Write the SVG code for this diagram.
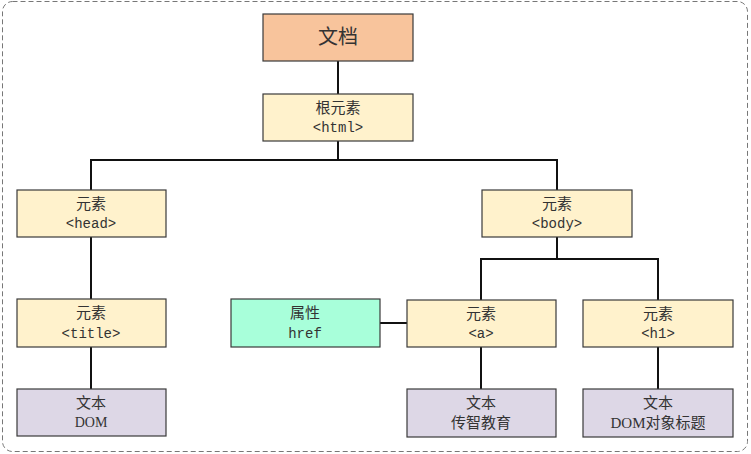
<svg xmlns="http://www.w3.org/2000/svg" width="751" height="454" viewBox="0 0 751 454">
<style>
.box{stroke:#3a3a3a;stroke-width:1.2}
.doc{fill:#F8C49C}
.el{fill:#FFF2CC}
.attr{fill:#A8FFDA}
.txt{fill:#DDD7E6}
.t{font-family:"Liberation Serif","Noto Sans CJK SC",serif;font-size:15px;fill:#333;text-anchor:middle}
.m{font-family:"Liberation Mono","Noto Sans CJK SC",monospace;font-size:14px;fill:#333;text-anchor:middle}
.c{fill:none;stroke:#111;stroke-width:2}
</style>
<rect x="2.5" y="1.5" width="745" height="450" rx="10" fill="#fff" stroke="#777" stroke-dasharray="5,3"/>
<g id="connectors">
<path class="c" d="M338 61V94M338 141V160M91 190V160H557V190M91 237V299M91 347V389M557 237V259M481 300V259H658V300M481 347V389M658 347V389M380 323H407"/>
</g>
<g id="doc"><rect class="box doc" x="263" y="14" width="150" height="47"/><text class="t" x="338" y="44" style="font-size:20px">文档</text></g>
<g id="html"><rect class="box el" x="263" y="94" width="150" height="47"/><text class="t" x="338" y="113">根元素</text><text class="m" x="338" y="132">&lt;html&gt;</text></g>
<g id="head"><rect class="box el" x="17" y="190" width="149" height="47"/><text class="t" x="91" y="209">元素</text><text class="m" x="91" y="228">&lt;head&gt;</text></g>
<g id="body"><rect class="box el" x="482" y="190" width="150" height="47"/><text class="t" x="557" y="209">元素</text><text class="m" x="557" y="228">&lt;body&gt;</text></g>
<g id="title"><rect class="box el" x="17" y="299" width="149" height="48"/><text class="t" x="91" y="318">元素</text><text class="m" x="91" y="338">&lt;title&gt;</text></g>
<g id="attr"><rect class="box attr" x="231" y="299" width="149" height="48"/><text class="t" x="305" y="318">属性</text><text class="m" x="305" y="338">href</text></g>
<g id="a"><rect class="box el" x="407" y="300" width="149" height="47"/><text class="t" x="481" y="319">元素</text><text class="m" x="481" y="338">&lt;a&gt;</text></g>
<g id="h1"><rect class="box el" x="583" y="300" width="150" height="47"/><text class="t" x="658" y="319">元素</text><text class="m" x="658" y="338">&lt;h1&gt;</text></g>
<g id="textDOM"><rect class="box txt" x="17" y="389" width="149" height="47"/><text class="t" x="91" y="408">文本</text><text class="t" x="91" y="427" style="font-size:14px">DOM</text></g>
<g id="textA"><rect class="box txt" x="407" y="389" width="149" height="48"/><text class="t" x="481" y="408">文本</text><text class="t" x="481" y="428">传智教育</text></g>
<g id="textH1"><rect class="box txt" x="583" y="389" width="150" height="48"/><text class="t" x="658" y="408">文本</text><text class="t" x="658" y="428">DOM对象标题</text></g>
</svg>
